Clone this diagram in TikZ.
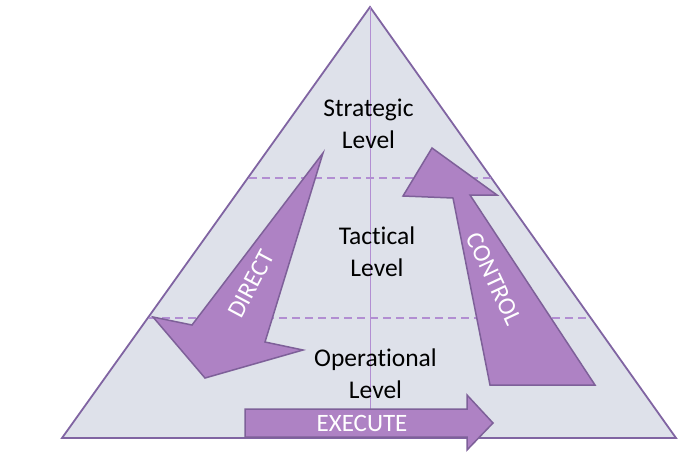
\documentclass[tikz,border=0pt]{standalone}
\usepackage{fontspec}
\setmainfont{Carlito}[Ligatures=NoCommon]
\definecolor{pyrfill}{RGB}{222,225,234}
\definecolor{pyredge}{RGB}{128,100,162}
\definecolor{guideline}{RGB}{178,142,210}
\definecolor{arrowfill}{RGB}{174,130,196}
\definecolor{arrowedge}{RGB}{126,96,153}

\begin{document}
\begin{tikzpicture}[x=1pt,y=-1pt,
    level/.style={font=\fontsize{25.5}{32}\selectfont,align=center,inner sep=0pt},
    bigarrow/.style={fill=arrowfill,draw=arrowedge,line width=1.5pt,line join=miter},
    arrowtext/.style={font=\fontsize{25}{30}\selectfont,text=white,inner sep=0pt}]
    \useasboundingbox (0,0) rectangle (693,451);
    \coordinate (apex) at (370,7);
    \coordinate (base-left) at (62,438);
    \coordinate (base-right) at (676,438);
    \coordinate (base-mid) at (370,438);
    \draw[fill=pyrfill,draw=pyredge,line width=1.8pt] (apex) -- (base-left) -- (base-right) --cycle;
    \draw[guideline,line width=1pt] (apex) -- (base-mid);
    % level borders
    \draw[guideline,dashed,dash pattern=on 8pt off 5pt,line width=1.1pt] (249,178) coordinate(upper-l) -- (491,178) coordinate(upper-r);
    \draw[guideline,dashed,dash pattern=on 8pt off 5pt,line width=1.1pt] (149,318) coordinate(lower-l) -- (591,318) coordinate(lower-r);
    % arrows
    \draw[bigarrow] (323,153) -- (192,325) -- (153,317) -- (205,378) -- (303,350) -- (265,342) --cycle;
    \draw[bigarrow] (432,148) -- (497,195) -- (470,195) -- (595,385) -- (490,385) -- (453,198) -- (403,196) --cycle;
    \draw[bigarrow] (245,409) -- (467,409) -- (467,395) -- (493,423) -- (467,450) -- (467,437) -- (245,437) --cycle;
    \node[arrowtext,rotate=62] (direct) at (251,284) {DIRECT};
    \node[arrowtext,rotate=-65] (control) at (494,279) {CONTROL};
    \node[arrowtext] (execute) at (362,423) {EXECUTE};
    % levels
    \node[level] (strategic) at (368.5,124) {Strategic\\Level};
    \node[level] (tactical) at (377,252) {Tactical\\Level};
    \node[level] (operational) at (375.5,374) {Operational\\Level};
\end{tikzpicture}
\end{document}
